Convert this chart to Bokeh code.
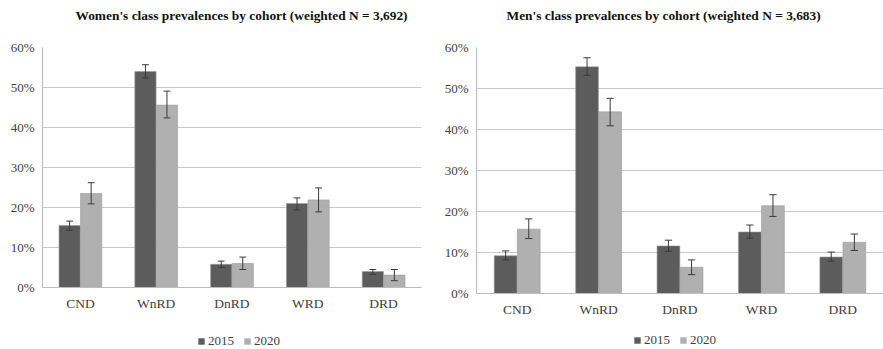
from bokeh.plotting import figure
from bokeh.models import (ColumnDataSource, FactorRange, Range1d, FixedTicker,
                          PrintfTickFormatter, Legend, LegendItem, Title)
from bokeh.transform import dodge
from bokeh.layouts import row, column
from bokeh.embed import file_html
from bokeh.resources import INLINE

# ---------------- data ----------------
categories = ["CND", "WnRD", "DnRD", "WRD", "DRD"]
years = ["2015", "2020"]
y_ticks = [0, 10, 20, 30, 40, 50, 60]

women_title = "Women's class prevalences by cohort (weighted N = 3,692)"
women_2015 = [15.5, 54.0, 5.8, 21.0, 4.0]
women_2015_lo = [14.3, 52.4, 5.0, 19.4, 3.3]
women_2015_hi = [16.6, 55.7, 6.6, 22.4, 4.5]
women_2020 = [23.5, 45.6, 6.0, 21.9, 3.1]
women_2020_lo = [20.9, 42.4, 4.5, 18.9, 1.7]
women_2020_hi = [26.2, 49.1, 7.6, 24.9, 4.5]

men_title = "Men's class prevalences by cohort (weighted N = 3,683)"
men_2015 = [9.2, 55.3, 11.6, 15.0, 8.9]
men_2015_lo = [8.2, 53.2, 10.3, 13.5, 7.9]
men_2015_hi = [10.4, 57.5, 13.0, 16.7, 10.1]
men_2020 = [15.7, 44.3, 6.4, 21.4, 12.5]
men_2020_lo = [13.4, 40.9, 4.6, 18.8, 10.5]
men_2020_hi = [18.2, 47.6, 8.2, 24.1, 14.5]

# ---------------- style ----------------
C15 = "#5c5c5c"
C20 = "#b0b0b0"
EDGE = "#9a9a9a"
ERR = "#3a3a3a"
GRID = "#c8c8c8"
AXIS = "#bdbdbd"
TXT = "#404040"
FONT = "Liberation Serif"
OFF = 0.142
BW = 0.28
CAP = 0.045
MAIN_H = 327
LEG_H = 22


def make_chart(title, v15, lo15, hi15, v20, lo20, hi20, width, left, right,
               bottom, title_offset, legend_loc):
    src = ColumnDataSource(dict(cat=categories, v15=v15, lo15=lo15, hi15=hi15,
                                v20=v20, lo20=lo20, hi20=hi20))
    p = figure(x_range=FactorRange(*categories), y_range=Range1d(0, 60),
               width=width, height=MAIN_H, output_backend="svg",
               toolbar_location=None, min_border_left=left,
               min_border_right=right, min_border_top=47,
               min_border_bottom=bottom, title=None)
    p.outline_line_color = None
    p.background_fill_color = "white"
    p.border_fill_color = "white"

    # spacer (closest to the frame) then the real title above it
    p.add_layout(Title(text=" ", text_font_size="6px", standoff=17,
                       text_color="white"), "above")
    p.add_layout(Title(text=title, text_font=FONT, text_font_style="bold",
                       text_font_size="13.4px", text_color="#111111",
                       align="left", offset=title_offset, standoff=0),
                 "above")

    p.vbar(x=dodge("cat", -OFF, range=p.x_range), top="v15", width=BW,
           source=src, fill_color=C15, line_color=EDGE, line_width=0.6)
    p.vbar(x=dodge("cat", OFF, range=p.x_range), top="v20", width=BW,
           source=src, fill_color=C20, line_color=EDGE, line_width=0.6)

    for off, lo, hi in ((-OFF, "lo15", "hi15"), (OFF, "lo20", "hi20")):
        p.segment(x0=dodge("cat", off, range=p.x_range),
                  x1=dodge("cat", off, range=p.x_range),
                  y0=lo, y1=hi, source=src, line_color=ERR, line_width=1)
        for end in (lo, hi):
            p.segment(x0=dodge("cat", off - CAP, range=p.x_range),
                      x1=dodge("cat", off + CAP, range=p.x_range),
                      y0=end, y1=end, source=src, line_color=ERR, line_width=1)

    p.xgrid.grid_line_color = None
    p.ygrid.grid_line_color = GRID
    p.ygrid.grid_line_width = 1.2

    p.yaxis.ticker = FixedTicker(ticks=y_ticks)
    p.yaxis.formatter = PrintfTickFormatter(format="%d%%")
    for ax in (p.xaxis[0], p.yaxis[0]):
        ax.axis_line_color = AXIS
        ax.axis_line_width = 1.2
        ax.major_tick_line_color = None
        ax.minor_tick_line_color = None
        ax.major_tick_out = 0
        ax.major_tick_in = 0
        ax.major_label_text_font = FONT
        ax.major_label_text_color = TXT
        ax.major_label_standoff = 8
    p.yaxis.major_label_text_font_size = "13px"
    p.xaxis.major_label_text_font_size = "13.5px"

    # legend strip below the chart; its swatch renderers are hidden
    # (only the legend entries are shown, at full strength)
    lg = figure(width=width, height=LEG_H, output_backend="svg",
                toolbar_location=None, min_border=0,
                x_range=FactorRange(*categories),
                y_range=Range1d(-1001, -1000),
                x_axis_location=None, y_axis_location=None)
    lg.outline_line_color = None
    lg.xgrid.visible = False
    lg.ygrid.visible = False
    k15 = lg.vbar(x="cat", top="v15", width=0, source=src,
                  fill_color=C15, line_color=None, visible=False)
    k20 = lg.vbar(x="cat", top="v20", width=0, source=src,
                  fill_color=C20, line_color=None, visible=False)
    legend = Legend(items=[LegendItem(label=years[0], renderers=[k15]),
                           LegendItem(label=years[1], renderers=[k20])],
                    orientation="horizontal", location=legend_loc,
                    glyph_width=8, glyph_height=8, label_height=14,
                    label_standoff=3, spacing=9, padding=0, margin=0,
                    border_line_color=None, background_fill_alpha=0,
                    inactive_fill_alpha=0)
    legend.label_text_font = FONT
    legend.label_text_font_size = "13px"
    legend.label_text_color = TXT
    lg.add_layout(legend)
    return column(p, lg, spacing=0)


c1 = make_chart(women_title, women_2015, women_2015_lo, women_2015_hi,
                women_2020, women_2020_lo, women_2020_hi,
                width=441, left=42, right=20, bottom=MAIN_H - 287,
                title_offset=33, legend_loc=(155, 0))
c2 = make_chart(men_title, men_2015, men_2015_lo, men_2015_hi,
                men_2020, men_2020_lo, men_2020_hi,
                width=442, left=32, right=0, bottom=MAIN_H - 293,
                title_offset=30, legend_loc=(157, 1))

layout = row(c1, c2, spacing=0)
open("out.html", "w").write(file_html(layout, INLINE))
